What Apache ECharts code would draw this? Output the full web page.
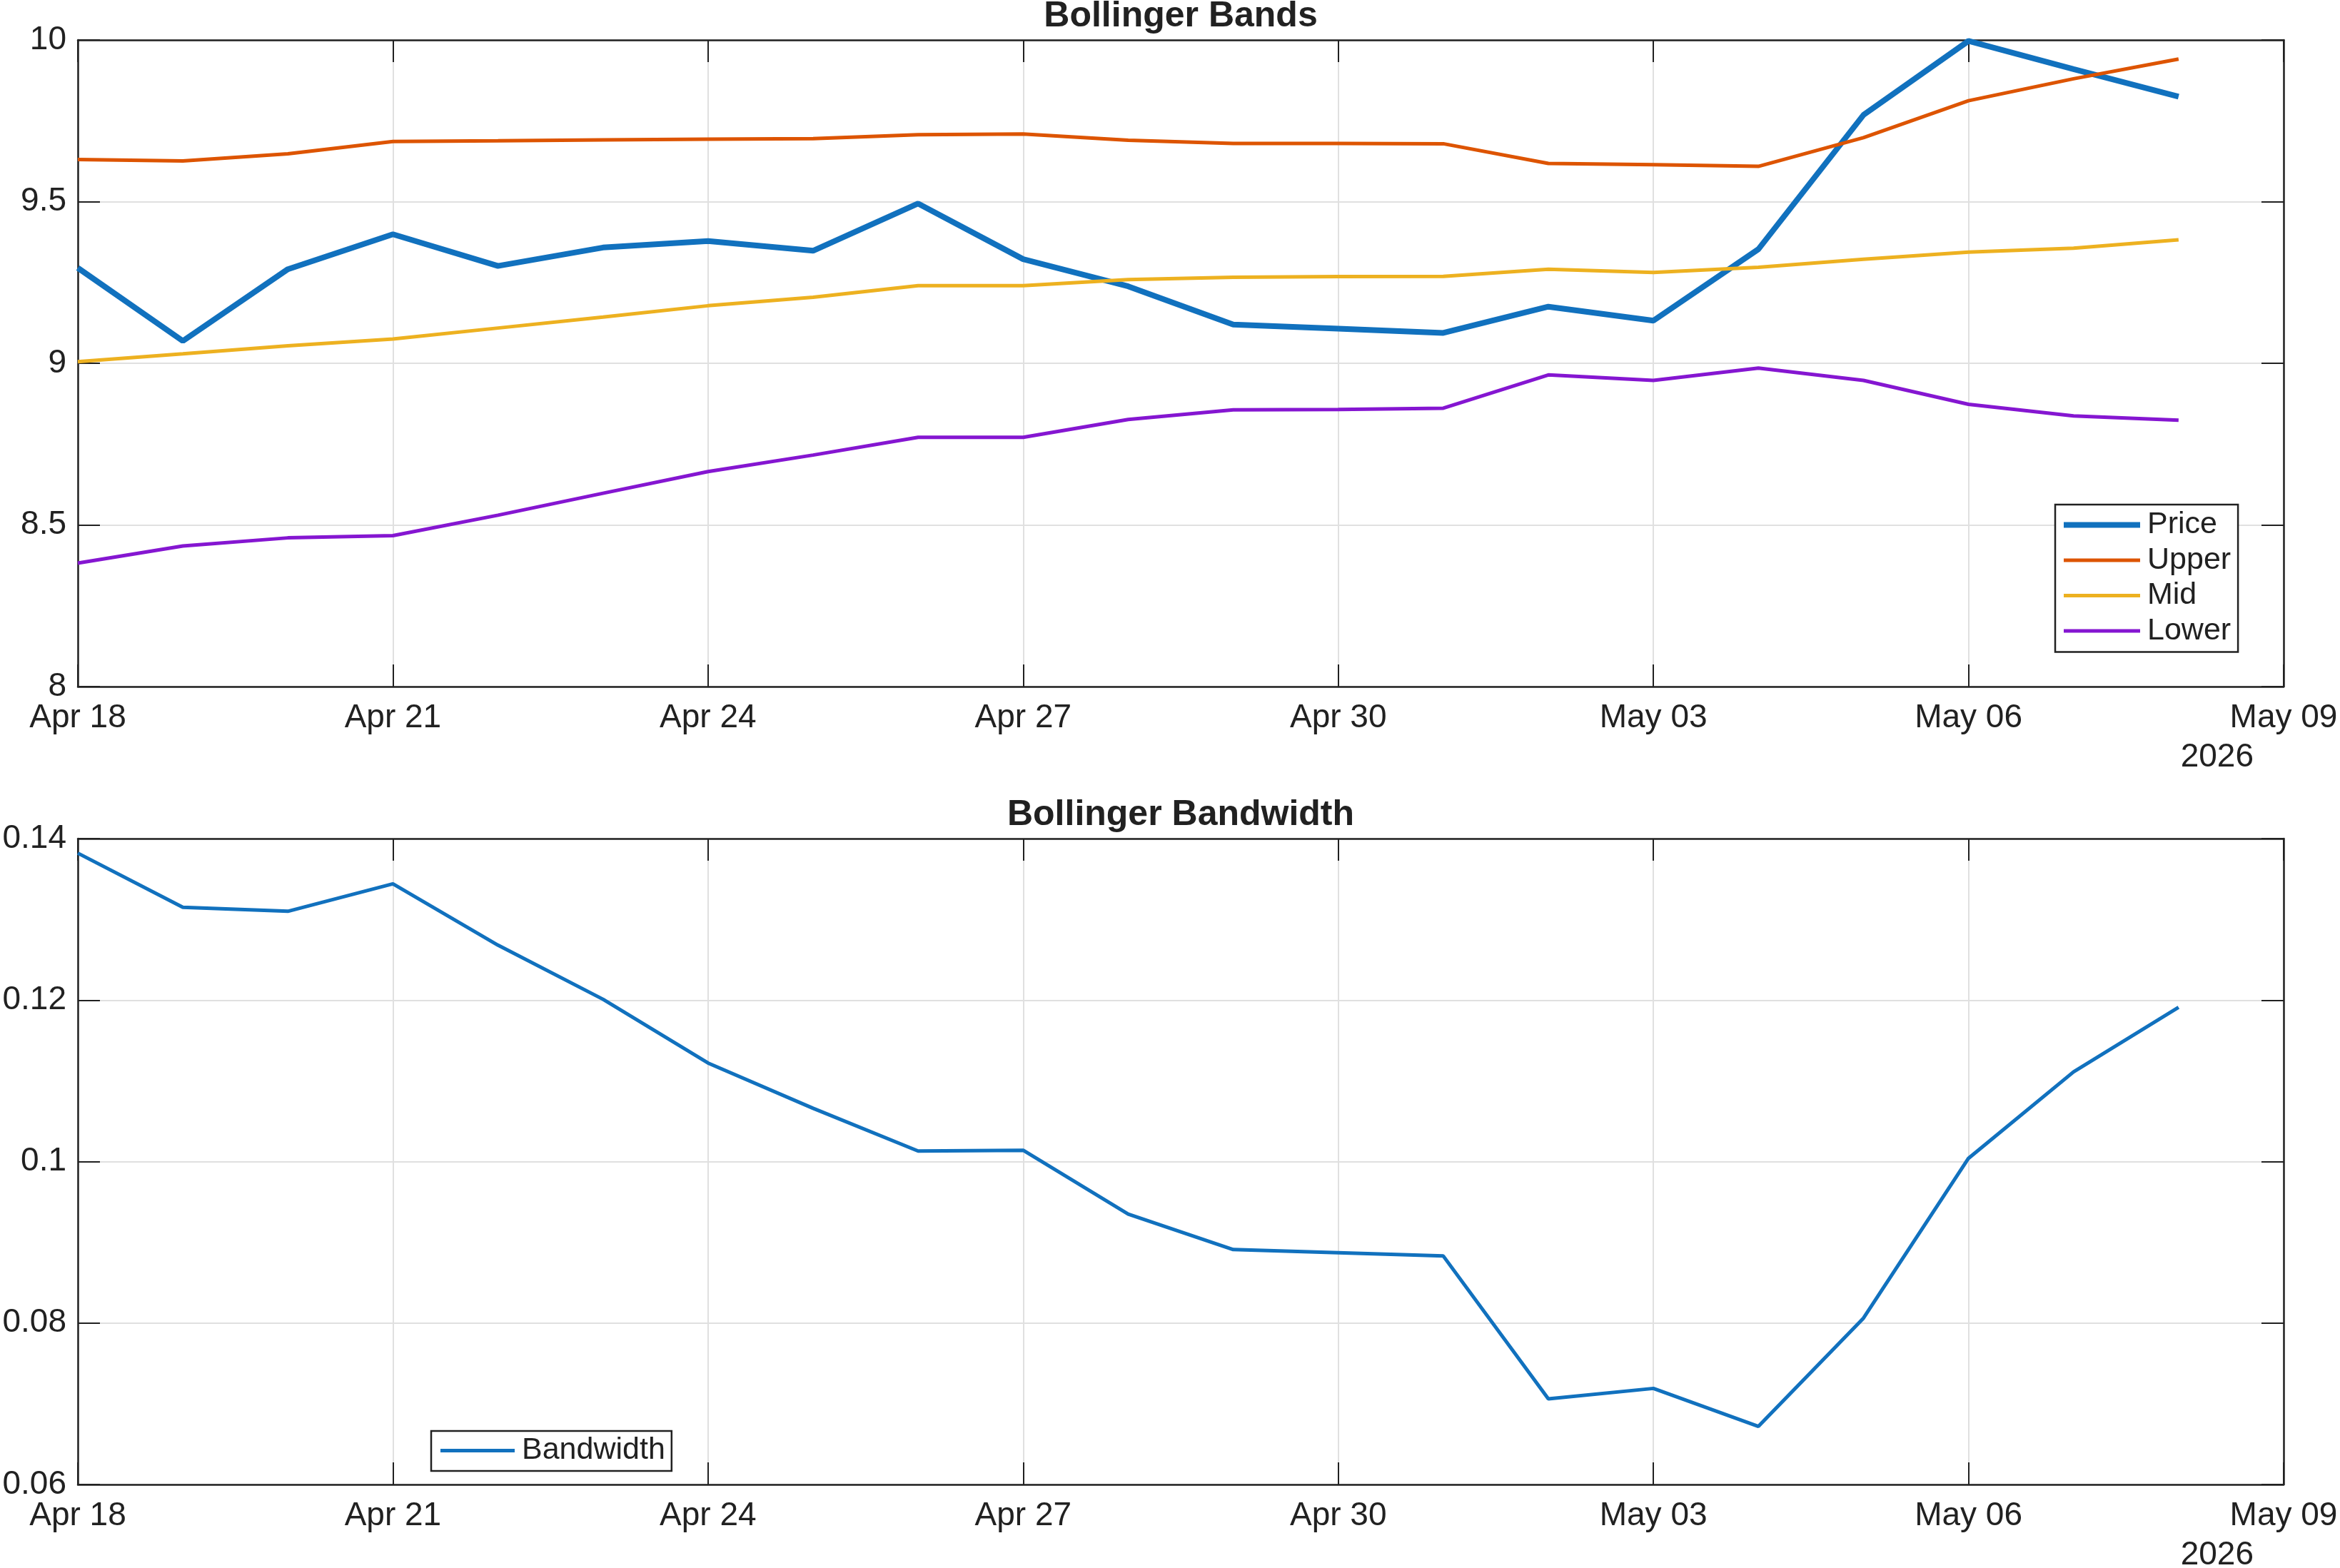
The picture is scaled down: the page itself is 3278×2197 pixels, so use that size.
<!DOCTYPE html>
<html>
<head>
<meta charset="utf-8">
<title>Bollinger Bands</title>
<script src="https://cdn.jsdelivr.net/npm/echarts@6/dist/echarts.min.js"></script>
<style>
  html, body { margin: 0; padding: 0; background: #fff; }
  #chart { width: 3278px; height: 2197px; }
</style>
</head>
<body>
<div id="chart"></div>
<script>
// days on the x axis (last one is only a tick, no data)
const dates = ['Apr 18', 'Apr 19', 'Apr 20', 'Apr 21', 'Apr 22', 'Apr 23', 'Apr 24',
  'Apr 25', 'Apr 26', 'Apr 27', 'Apr 28', 'Apr 29', 'Apr 30', 'May 01',
  'May 02', 'May 03', 'May 04', 'May 05', 'May 06', 'May 07', 'May 08', 'May 09']
const yearLabel = '2026'

const price = [9.295, 9.069, 9.291, 9.399, 9.301, 9.358, 9.378, 9.348, 9.494, 9.322,
  9.238, 9.120, 9.107, 9.094, 9.175, 9.132, 9.353, 9.768, 9.997, 9.910, 9.825]
const upper = [9.630, 9.626, 9.648, 9.686, 9.688, 9.691, 9.693, 9.695, 9.707, 9.709,
  9.690, 9.680, 9.680, 9.679, 9.618, 9.614, 9.609, 9.698, 9.812, 9.880, 9.941]
const mid = [9.005, 9.029, 9.054, 9.075, 9.109, 9.143, 9.178, 9.204, 9.240, 9.240,
  9.259, 9.266, 9.268, 9.269, 9.291, 9.281, 9.297, 9.322, 9.344, 9.356, 9.382]
const lower = [8.382, 8.435, 8.460, 8.467, 8.530, 8.598, 8.665, 8.716, 8.771, 8.771,
  8.826, 8.856, 8.857, 8.861, 8.964, 8.947, 8.985, 8.947, 8.873, 8.837, 8.824]
const bandwidth = [0.1382, 0.1315, 0.1310, 0.1344, 0.1268, 0.1201, 0.1122, 0.1066, 0.1013, 0.1014,
  0.0935, 0.0891, 0.0887, 0.0883, 0.0706, 0.0719, 0.0672, 0.0806, 0.1004, 0.1111, 0.1191]

const FONT = 'Liberation Sans, Arial, Helvetica, sans-serif'
const INK = '#212121'
const GRIDC = '#e0e0e0'

function xAxes (gridIndex) {
  const base = {
    gridIndex: gridIndex,
    type: 'category',
    data: dates,
    boundaryGap: false,
    axisLine: { lineStyle: { color: INK, width: 2.5 } },
    axisTick: { inside: true, length: 31, interval: 2, lineStyle: { color: INK, width: 2 } }
  }
  return [
    Object.assign({}, base, {
      position: 'bottom',
      axisLabel: { interval: 2, fontSize: 46, fontFamily: FONT, color: INK, margin: 21, lineHeight: 46 },
      splitLine: { show: true, interval: 2, lineStyle: { color: GRIDC, width: 2 } }
    }),
    Object.assign({}, base, {
      position: 'top',
      axisLabel: { show: false },
      splitLine: { show: false }
    })
  ]
}

function yAxes (gridIndex, min, max, step) {
  const base = {
    gridIndex: gridIndex,
    type: 'value',
    min: min,
    max: max,
    interval: step,
    axisLine: { show: true, lineStyle: { color: INK, width: 2.5 } },
    axisTick: { show: true, inside: true, length: 31, lineStyle: { color: INK, width: 2 } }
  }
  return [
    Object.assign({}, base, {
      position: 'left',
      axisLabel: { fontSize: 46, fontFamily: FONT, color: INK, margin: 16 },
      splitLine: { show: true, lineStyle: { color: GRIDC, width: 2 } }
    }),
    Object.assign({}, base, {
      position: 'right',
      axisLabel: { show: false },
      splitLine: { show: false }
    })
  ]
}

function lineSeries (name, data, color, width, xi, yi) {
  return {
    name: name,
    type: 'line',
    xAxisIndex: xi,
    yAxisIndex: yi,
    data: data,
    symbol: 'none',
    smooth: false,
    color: color,
    lineStyle: { color: color, width: width },
    z: 3
  }
}

const legendText = { fontSize: 43, fontFamily: FONT, color: INK, lineHeight: 43, padding: [0, 0, 0, 5] }

var myChart = echarts.init(document.getElementById('chart'), null, { renderer: 'canvas' })

const option = {
  animation: false,
  backgroundColor: '#ffffff',
  title: [
    {
      text: 'Bollinger Bands',
      left: 1654,
      top: -2,
      textAlign: 'center',
      padding: 0,
      textStyle: { fontSize: 50, fontWeight: 'bold', fontFamily: FONT, color: INK, lineHeight: 50 }
    },
    {
      text: 'Bollinger Bandwidth',
      left: 1654,
      top: 1117,
      textAlign: 'center',
      padding: 0,
      textStyle: { fontSize: 50, fontWeight: 'bold', fontFamily: FONT, color: INK, lineHeight: 50 }
    }
  ],
  grid: [
    { left: 109, right: 79, top: 56, height: 906, outerBoundsMode: 'none' },
    { left: 109, right: 79, top: 1175, height: 905, outerBoundsMode: 'none' }
  ],
  xAxis: xAxes(0).concat(xAxes(1)),
  yAxis: yAxes(0, 8, 10, 0.5).concat(yAxes(1, 0.06, 0.14, 0.02)),
  legend: [
    {
      orient: 'vertical',
      left: 2879,
      top: 707,
      padding: [7, 10, 8, 12],
      itemGap: 6.5,
      itemWidth: 107,
      itemHeight: 14,
      backgroundColor: '#ffffff',
      borderColor: INK,
      borderWidth: 2.5,
      borderRadius: 0,
      itemStyle: { borderWidth: 0 },
      textStyle: legendText,
      selectedMode: false,
      data: [
        { name: 'Price', icon: 'path://M0,0H107V8H0Z' },
        { name: 'Upper', icon: 'path://M0,0H107V5H0Z' },
        { name: 'Mid', icon: 'path://M0,0H107V5H0Z' },
        { name: 'Lower', icon: 'path://M0,0H107V5H0Z' }
      ]
    },
    {
      orient: 'vertical',
      left: 604,
      top: 2005,
      padding: [6, 9, 7, 13],
      itemWidth: 104,
      itemHeight: 14,
      backgroundColor: '#ffffff',
      borderColor: INK,
      borderWidth: 2.5,
      borderRadius: 0,
      itemStyle: { borderWidth: 0 },
      textStyle: legendText,
      selectedMode: false,
      data: [{ name: 'Bandwidth', icon: 'path://M0,0H104V5H0Z' }]
    }
  ],
  graphic: [
    {
      type: 'text',
      x: 3157,
      y: 1061,
      style: { text: yearLabel, fontSize: 46, fontFamily: FONT, fill: INK, textAlign: 'right', textVerticalAlign: 'middle' }
    },
    {
      type: 'text',
      x: 3157,
      y: 2179,
      style: { text: yearLabel, fontSize: 46, fontFamily: FONT, fill: INK, textAlign: 'right', textVerticalAlign: 'middle' }
    }
  ],
  series: [
    lineSeries('Price', price, '#1171BE', 8, 0, 0),
    lineSeries('Upper', upper, '#DD5400', 5, 0, 0),
    lineSeries('Mid', mid, '#EDB120', 5, 0, 0),
    lineSeries('Lower', lower, '#8516D1', 5, 0, 0),
    lineSeries('Bandwidth', bandwidth, '#1171BE', 5, 2, 2)
  ]
}

myChart.setOption(option)
</script>
</body>
</html>
